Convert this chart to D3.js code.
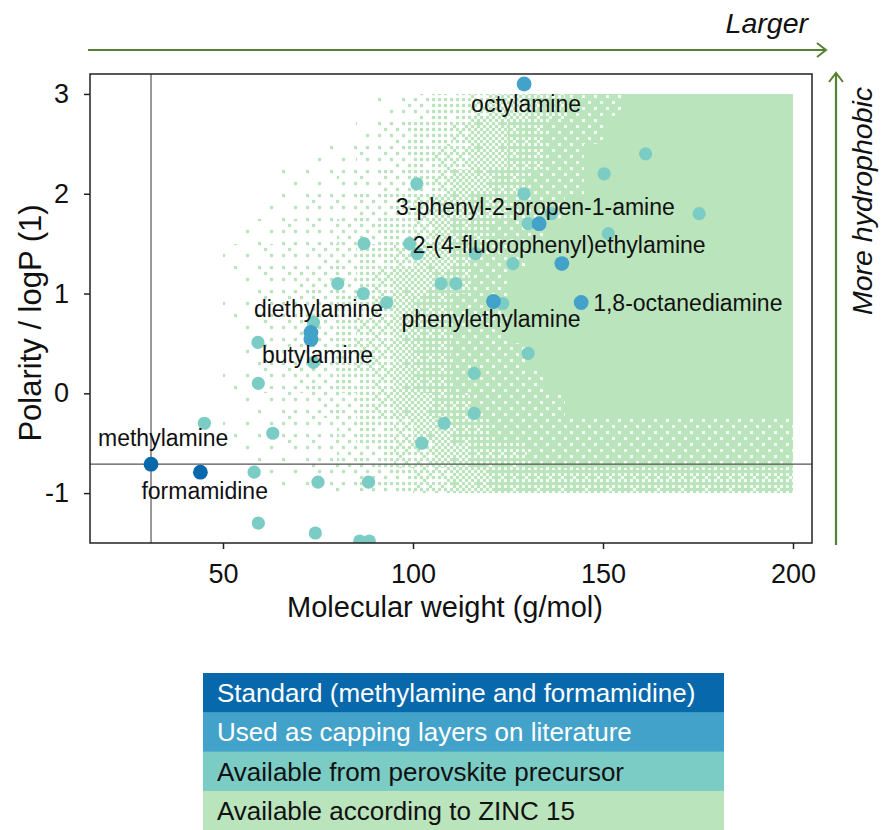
<!DOCTYPE html>
<html>
<head>
<meta charset="utf-8">
<script src="https://cdn.jsdelivr.net/npm/d3@7"></script>
<style>
  html, body { margin: 0; padding: 0; background: #fff; }
  svg { display: block; font-family: "Liberation Sans", Arial, sans-serif; }
</style>
</head>
<body>
<svg id="chart" width="881" height="830"></svg>
<script>
// ---- data: molecular weight (g/mol) and logP of the A-site amine candidates ----
const standardNames = ["methylamine", "formamidine"];
const standardMW    = [31.06, 44.05];
const standardLogP  = [-0.71, -0.79];

const cappingNames = ["octylamine", "3-phenyl-2-propen-1-amine", "2-(4-fluorophenyl)ethylamine",
                      "1,8-octanediamine", "phenylethylamine", "diethylamine", "butylamine"];
const cappingMW    = [129.24, 133.19, 139.17, 144.26, 121.18, 73.14, 73.14];
const cappingLogP  = [3.10, 1.70, 1.30, 0.91, 0.92, 0.61, 0.54];

const precursorMW = [45.1, 63.1, 58.2, 59.2, 59.3, 59.3, 74.3, 75.0, 88.3, 86.0, 88.5,
                     73.8, 73.8, 86.9, 87.1, 80.2, 101.0, 129.2, 150.3, 161.2, 130.3,
                     136.4, 151.4, 99.1, 101.1, 116.4, 126.3, 107.4, 111.3, 93.1, 123.6,
                     175.3, 130.3, 116.1, 116.1, 108.2, 102.3];
const precursorLogP = [-0.30, -0.40, -0.79, 0.51, 0.10, -1.30, -1.40, -0.89, -0.89, -1.48, -1.48,
                       0.71, 0.31, 1.00, 1.50, 1.10, 2.10, 2.00, 2.20, 2.40, 1.70,
                       1.80, 1.60, 1.50, 1.40, 1.40, 1.30, 1.10, 1.10, 0.91, 0.90,
                       1.80, 0.40, 0.20, -0.20, -0.30, -0.50];

// ZINC 15 candidates, binned: lower edges of 5 g/mol columns and 0.25 logP rows,
// with a density level 0 (empty) .. 9 (fully covered) for every cell.
const zincMWBins = [50, 55, 60, 65, 70, 75, 80, 85, 90, 95, 100, 105, 110, 115, 120,
                    125, 130, 135, 140, 145, 150, 155, 160, 165, 170, 175, 180, 185, 190, 195];
const zincLogPBins = [2.75, 2.5, 2.25, 2.0, 1.75, 1.5, 1.25, 1.0, 0.75, 0.5, 0.25, 0.0,
                      -0.25, -0.5, -0.75, -1.0];
const zincDensity = [
  "00000 00012 34456 67788 89999 99999",
  "00000 00123 44566 77888 99999 99999",
  "00000 11223 45566 77889 99999 99999",
  "00011 12233 45667 78889 99999 99999",
  "00112 22334 56677 88899 99999 99999",
  "01122 23344 56778 88999 99999 99999",
  "11222 33445 66788 89999 99999 99999",
  "01223 33456 67788 99999 99999 99999",
  "11223 34456 77888 99999 99999 99999",
  "01223 34556 77888 99999 99999 99999",
  "01223 34556 77888 89999 99999 99999",
  "11223 34456 77888 88999 99999 99999",
  "01122 33456 67788 88899 99999 99999",
  "11122 23445 66778 88888 88888 88888",
  "01112 23345 56677 78888 88888 88888",
  "00111 22334 55667 77777 77777 77777"
];

const xTicks = [50, 100, 150, 200];
const yTicks = [3, 2, 1, 0, -1];

const legendLabels = ["Standard (methylamine and formamidine)",
                      "Used as capping layers on literature",
                      "Available from perovskite precursor",
                      "Available according to ZINC 15"];

// ---- styling ----
const colStandard = "#0868ac", colCapping = "#43a2ca", colPrecursor = "#7bccc4", colZinc = "#bae4bc";
const legendColors = [colStandard, colCapping, colPrecursor, colZinc];
const legendTextColors = ["#ffffff", "#ffffff", "#111111", "#111111"];
const arrowColor = "#548235";

// label placement relative to the marker centre (px)
const labelOffset = {
  "methylamine": [-53, -18],
  "formamidine": [-59, 27],
  "octylamine": [-53, 28.5],
  "3-phenyl-2-propen-1-amine": [-143, -9],
  "2-(4-fluorophenyl)ethylamine": [-149, -11],
  "1,8-octanediamine": [12, 8],
  "phenylethylamine": [-92, 25],
  "diethylamine": [-57, -15],
  "butylamine": [-49, 24]
};

const margin = { left: 90, right: 812, top: 74, bottom: 543 };
const svg = d3.select("#chart");

const x = d3.scaleLinear().domain([15, 205]).range([margin.left, margin.right]);
const y = d3.scaleLinear().domain([-1.5, 3.2]).range([margin.bottom, margin.top]);

const defs = svg.append("defs");
defs.append("clipPath").attr("id", "plotClip")
  .append("rect")
  .attr("x", margin.left).attr("y", margin.top)
  .attr("width", margin.right - margin.left).attr("height", margin.bottom - margin.top);

// ordered-dither dot textures for the binned ZINC cloud
const bayer = [
  [ 0, 32,  8, 40,  2, 34, 10, 42],
  [48, 16, 56, 24, 50, 18, 58, 26],
  [12, 44,  4, 36, 14, 46,  6, 38],
  [60, 28, 52, 20, 62, 30, 54, 22],
  [ 3, 35, 11, 43,  1, 33,  9, 41],
  [51, 19, 59, 27, 49, 17, 57, 25],
  [15, 47,  7, 39, 13, 45,  5, 37],
  [63, 31, 55, 23, 61, 29, 53, 21]
];
const dotsPerLevel = [0, 2, 5, 9, 15, 23, 33, 45, 56];
const step = 3;
for (let lv = 1; lv <= 8; lv++) {
  const p = defs.append("pattern")
    .attr("id", "zinc" + lv)
    .attr("patternUnits", "userSpaceOnUse")
    .attr("x", margin.left).attr("y", margin.top)
    .attr("width", step * 8).attr("height", step * 8);
  for (let j = 0; j < 8; j++) {
    for (let i = 0; i < 8; i++) {
      if (bayer[j][i] < dotsPerLevel[lv]) {
        p.append("rect")
          .attr("x", i * step - 0.2).attr("y", j * step - 0.2)
          .attr("width", step + 0.4).attr("height", step + 0.4)
          .attr("rx", 1.2)
          .attr("fill", colZinc);
      }
    }
  }
}

// ---- ZINC 15 cloud ----
const zincCells = [];
zincDensity.forEach((row, r) => {
  const levels = row.replace(/\s/g, "").split("").map(Number);
  levels.forEach((lv, c) => {
    if (lv > 0) zincCells.push({ mw: zincMWBins[c], lp: zincLogPBins[r], lv });
  });
});

const plot = svg.append("g").attr("clip-path", "url(#plotClip)");
plot.append("g").selectAll("rect")
  .data(zincCells)
  .join("rect")
  .attr("x", d => x(d.mw))
  .attr("y", d => y(d.lp + 0.25))
  .attr("width", d => x(d.mw + 5) - x(d.mw))
  .attr("height", d => y(d.lp) - y(d.lp + 0.25))
  .attr("fill", d => d.lv >= 9 ? colZinc : `url(#zinc${d.lv})`)
  .attr("shape-rendering", "crispEdges");

// reference lines through methylamine
plot.append("line")
  .attr("x1", x(standardMW[0])).attr("x2", x(standardMW[0]))
  .attr("y1", margin.top).attr("y2", margin.bottom)
  .attr("stroke", "#555").attr("stroke-width", 1.2);
plot.append("line")
  .attr("x1", margin.left).attr("x2", margin.right)
  .attr("y1", y(standardLogP[0])).attr("y2", y(standardLogP[0]))
  .attr("stroke", "#555").attr("stroke-width", 1.2);

// ---- markers ----
function markers(mws, lps, color, r) {
  plot.append("g").selectAll("circle")
    .data(mws.map((m, i) => ({ m, l: lps[i] })))
    .join("circle")
    .attr("cx", d => x(d.m))
    .attr("cy", d => y(d.l))
    .attr("r", r)
    .attr("fill", color);
}
markers(precursorMW, precursorLogP, colPrecursor, 6.6);
markers(cappingMW, cappingLogP, colCapping, 7.4);
markers(standardMW, standardLogP, colStandard, 7.4);

// ---- point labels ----
const labelled = [];
standardNames.forEach((n, i) => labelled.push({ n, m: standardMW[i], l: standardLogP[i] }));
cappingNames.forEach((n, i) => labelled.push({ n, m: cappingMW[i], l: cappingLogP[i] }));
svg.append("g").selectAll("text")
  .data(labelled)
  .join("text")
  .attr("x", d => x(d.m) + labelOffset[d.n][0])
  .attr("y", d => y(d.l) + labelOffset[d.n][1])
  .attr("font-size", 23)
  .attr("fill", "#111")
  .text(d => d.n);

// ---- frame and axes ----
svg.append("rect")
  .attr("x", margin.left).attr("y", margin.top)
  .attr("width", margin.right - margin.left).attr("height", margin.bottom - margin.top)
  .attr("fill", "none").attr("stroke", "#222").attr("stroke-width", 1.5);

const xAxis = svg.append("g")
  .attr("transform", `translate(0,${margin.bottom})`)
  .call(d3.axisBottom(x).tickValues(xTicks).tickSize(6).tickPadding(15).tickFormat(d => String(d)));
const yAxis = svg.append("g")
  .attr("transform", `translate(${margin.left},0)`)
  .call(d3.axisLeft(y).tickValues(yTicks).tickSize(6).tickPadding(15).tickFormat(d => String(d)));
[xAxis, yAxis].forEach(a => {
  a.select(".domain").remove();
  a.selectAll(".tick line").attr("stroke", "#222").attr("stroke-width", 1.5);
  a.selectAll(".tick text")
    .attr("font-size", 27)
    .attr("font-family", "'Liberation Sans', Arial, sans-serif")
    .attr("fill", "#111");
});

svg.append("text")
  .attr("x", (margin.left + margin.right) / 2 - 6)
  .attr("y", 617)
  .attr("text-anchor", "middle")
  .attr("font-size", 29)
  .attr("fill", "#111")
  .text("Molecular weight (g/mol)");

svg.append("text")
  .attr("transform", `translate(41,323) rotate(-90)`)
  .attr("text-anchor", "middle")
  .attr("font-size", 31)
  .attr("fill", "#111")
  .text("Polarity / logP (1)");

// ---- direction arrows ----
svg.append("line")
  .attr("x1", 88).attr("x2", 826).attr("y1", 50).attr("y2", 50)
  .attr("stroke", arrowColor).attr("stroke-width", 2.2);
svg.append("path")
  .attr("d", "M817,43 L826,50 L817,57")
  .attr("fill", "none").attr("stroke", arrowColor).attr("stroke-width", 2);
svg.append("text")
  .attr("x", 808).attr("y", 33)
  .attr("text-anchor", "end")
  .attr("font-size", 28.5).attr("font-style", "italic")
  .attr("fill", "#111")
  .text("Larger");

svg.append("line")
  .attr("x1", 836).attr("x2", 836).attr("y1", 545).attr("y2", 73)
  .attr("stroke", arrowColor).attr("stroke-width", 2.2);
svg.append("path")
  .attr("d", "M829,82 L836,73 L843,82")
  .attr("fill", "none").attr("stroke", arrowColor).attr("stroke-width", 2);
svg.append("text")
  .attr("transform", "translate(872,201) rotate(-90)")
  .attr("text-anchor", "middle")
  .attr("font-size", 28.5).attr("font-style", "italic")
  .attr("fill", "#111")
  .text("More hydrophobic");

// ---- legend ----
const lgX = 203, lgY = 673, lgW = 521, lgH = 39.3;
const lg = svg.append("g");
lg.selectAll("rect")
  .data(legendLabels)
  .join("rect")
  .attr("x", lgX)
  .attr("y", (d, i) => lgY + i * lgH)
  .attr("width", lgW)
  .attr("height", lgH + 0.5)
  .attr("fill", (d, i) => legendColors[i]);
lg.selectAll("text")
  .data(legendLabels)
  .join("text")
  .attr("x", lgX + 14)
  .attr("y", (d, i) => lgY + i * lgH + 29)
  .attr("font-size", 26)
  .attr("fill", (d, i) => legendTextColors[i])
  .text(d => d);
</script>
</body>
</html>
